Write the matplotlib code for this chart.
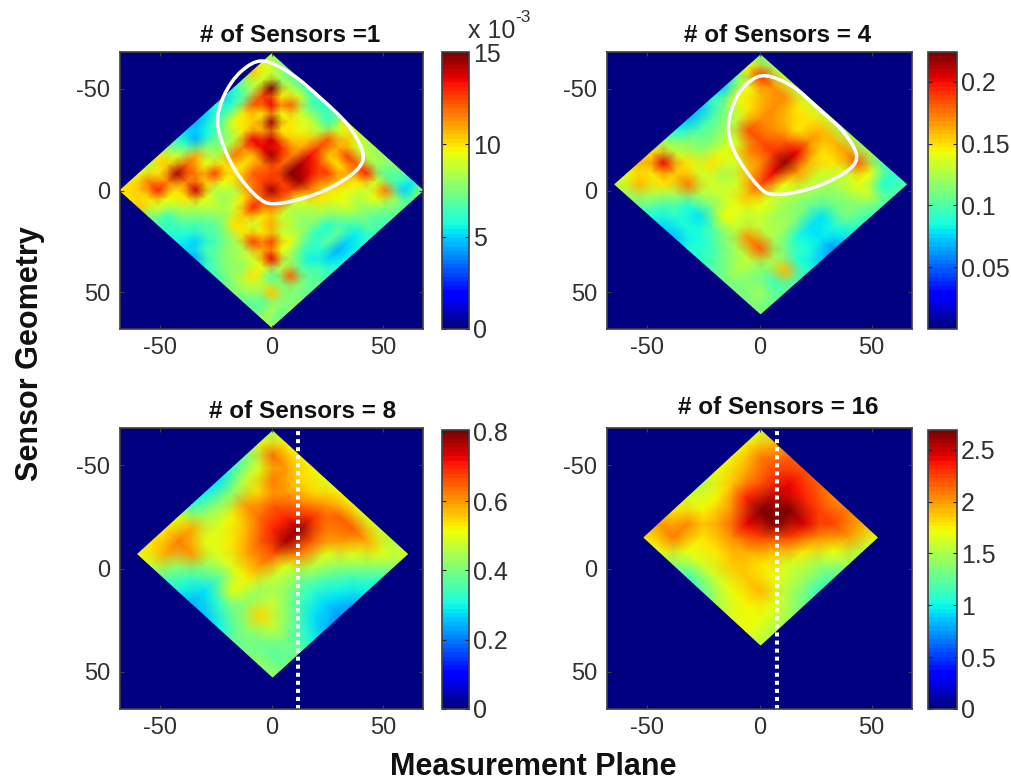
"""Source-strength maps for four sensor counts, drawn on diamond shaped grids."""
import numpy as np
import matplotlib
matplotlib.use("Agg")
import matplotlib.pyplot as plt
from matplotlib.patches import PathPatch
from matplotlib.path import Path

plt.rcParams["font.family"] = ["Liberation Sans", "DejaVu Sans"]
plt.rcParams["axes.unicode_minus"] = False

# rows run from the top corner towards the left corner,
# columns from the top corner towards the right corner
sensors_1 = [
    [8, 7.5, 7, 6.5, 6, 6, 6, 7, 10, 9, 8.5, 8, 8, 7.5, 7, 5.5, 8],
    [9.5, 9, 8, 8.5, 9, 7, 7, 6.5, 9, 10.5, 9, 8.5, 8, 7, 6.5, 5, 7],
    [10.5, 9, 15, 10, 12, 9, 9, 8.5, 12, 11, 12.5, 12, 13, 9, 11.5, 8, 7],
    [7.5, 8.5, 12.5, 13.5, 9.5, 10, 9.5, 10.5, 12.5, 10.5, 10, 11, 10, 9, 9.5, 7.5, 7],
    [6, 7, 12, 10, 14.5, 10, 10.5, 11, 13.5, 12.5, 12.5, 10.5, 9.5, 8.5, 8, 7, 6.5],
    [5, 6.5, 10, 10.5, 11, 14, 13, 11.5, 14.5, 13.5, 11.5, 10, 9.5, 9, 7.5, 7, 6.5],
    [6, 6.5, 9.5, 10, 13.5, 13.5, 14.5, 12, 15, 14.5, 11.5, 10, 8.5, 7.5, 6.5, 5.5, 6],
    [5, 6.5, 7.5, 8.5, 11.5, 10.5, 11.5, 12.5, 12.5, 12.5, 9.5, 8.5, 8, 6, 7, 5, 5.5],
    [4.5, 5.5, 7, 8, 11.5, 10, 12, 12.5, 14.5, 12, 8.5, 8, 7.5, 6, 7, 4.5, 5.5],
    [5, 4.5, 7.5, 8.5, 10, 10, 11, 11.5, 12, 11.5, 9, 8.5, 8, 6.5, 6, 5, 6],
    [6, 7, 11, 9.5, 12.5, 9.5, 8.5, 10, 13, 10, 11, 9, 9.5, 7, 5.5, 6.5, 6.5],
    [7.5, 9, 12, 11.5, 10.5, 8.5, 8, 9, 10.5, 9, 10, 12.5, 9.5, 8, 7, 7, 7],
    [10, 10.5, 14.5, 11.5, 14, 9.5, 8.5, 8, 10, 10, 12.5, 11, 13.5, 8.5, 12, 7.5, 7],
    [8.5, 10, 11.5, 10, 10, 8.5, 7.5, 7, 7.5, 8, 8.5, 9, 9.5, 7, 7.5, 7.5, 7.5],
    [9.5, 11.5, 13, 9.5, 8.5, 7.5, 6.5, 6.5, 6.5, 7.5, 8, 8, 10, 8.5, 10.5, 7.5, 7.5],
    [10, 10.5, 10, 9, 6.5, 6.5, 6, 5, 6.5, 7, 7.5, 8, 8.5, 8, 7, 8, 7],
    [10, 10, 10.5, 7.5, 6.5, 6, 5.5, 5, 4.5, 6, 6.5, 7, 7.5, 7, 7, 8, 8],
]
sensors_4 = [
    [.11, .12, .13, .13, .13, .13, .13, .12, .12, .12, .10, .09, .10],
    [.14, .19, .17, .17, .15, .15, .16, .16, .165, .18, .14, .09, .10],
    [.11, .14, .16, .17, .16, .15, .17, .15, .15, .13, .14, .13, .10],
    [.075, .14, .15, .17, .17, .18, .20, .16, .135, .125, .12, .115, .095],
    [.09, .11, .13, .185, .185, .19, .22, .165, .13, .115, .105, .11, .09],
    [.07, .10, .12, .135, .17, .17, .20, .14, .125, .105, .08, .085, .08],
    [.07, .10, .115, .14, .135, .16, .185, .135, .12, .115, .08, .08, .06],
    [.085, .115, .12, .15, .125, .135, .16, .14, .125, .12, .085, .085, .07],
    [.12, .13, .15, .135, .135, .135, .14, .13, .13, .125, .11, .09, .085],
    [.15, .20, .155, .175, .125, .115, .14, .13, .17, .18, .125, .16, .095],
    [.16, .15, .15, .12, .09, .08, .10, .115, .125, .13, .115, .095, .10],
    [.14, .16, .125, .095, .09, .085, .085, .095, .11, .125, .115, .12, .105],
    [.13, .12, .105, .085, .075, .07, .085, .09, .10, .11, .11, .115, .11],
]
sensors_8 = [
    [.45, .52, .52, .52, .50, .52, .52, .50, .48, .46, .50],
    [.50, .63, .60, .55, .55, .60, .65, .65, .58, .50, .42],
    [.40, .50, .62, .60, .63, .68, .62, .60, .50, .42, .33],
    [.33, .47, .55, .65, .70, .78, .65, .50, .42, .33, .30],
    [.28, .42, .60, .63, .70, .77, .62, .46, .36, .30, .24],
    [.30, .42, .52, .57, .65, .66, .50, .40, .32, .27, .22],
    [.33, .45, .50, .54, .58, .60, .47, .42, .35, .28, .25],
    [.50, .58, .50, .50, .50, .52, .43, .47, .42, .35, .30],
    [.54, .62, .60, .42, .37, .50, .42, .55, .47, .40, .38],
    [.54, .58, .42, .33, .28, .33, .38, .42, .40, .37, .38],
    [.52, .47, .36, .30, .24, .26, .30, .37, .40, .42, .42],
]
sensors_16 = [
    [1.6, 1.9, 2.15, 2.2, 2.15, 2.05, 2.1, 1.95, 1.65],
    [1.75, 2.1, 2.25, 2.4, 2.35, 2.25, 2.25, 2.0, 1.55],
    [1.75, 1.95, 2.2, 2.55, 2.65, 2.45, 2.05, 1.7, 1.45],
    [1.7, 1.85, 2.35, 2.65, 2.65, 2.25, 1.8, 1.45, 1.2],
    [1.55, 1.75, 2.05, 2.4, 2.25, 1.9, 1.6, 1.45, 1.1],
    [1.6, 1.75, 1.95, 2.05, 1.95, 1.8, 1.7, 1.5, 1.3],
    [1.8, 2.05, 1.8, 1.8, 1.85, 1.85, 1.9, 1.65, 1.45],
    [2.0, 2.1, 1.7, 1.6, 1.6, 1.7, 1.75, 1.7, 1.5],
    [1.8, 1.7, 1.4, 1.1, 1.25, 1.5, 1.65, 1.7, 1.55],
]

# white outlines of the strong region
curve_1_x = [-4, 8.7, 22.1, 34.1, 40.8, 39.3, 29.6, 16.1, 1.2, -6.3, -15.2, -21.2, -24.2, -21.2, -13.8]
curve_1_y = [-63.6, -57.4, -45.3, -32.4, -19.4, -11.3, -3.2, 3.2, 6.5, 3.2, -8.1, -21, -34, -46.9, -58.3]
curve_4_x = [3, 14.9, 26.8, 37.2, 43.2, 40.2, 28.3, 16.4, 7.4, 1.5, -6, -11.9, -13.8, -10.4, -4.5]
curve_4_y = [-56.3, -51, -39.6, -29.1, -17.8, -10.5, -3.2, 0.8, 1.9, 0, -9.7, -21, -32.4, -45.3, -53.4]

titles = ["# of Sensors =1", "# of Sensors = 4", "# of Sensors = 8", "# of Sensors = 16"]
ticks = [-50, 0, 50]
cbar_ticks = [[0, 5, 10, 15], [0.05, 0.1, 0.15, 0.2], [0, 0.2, 0.4, 0.6, 0.8],
              [0, 0.5, 1, 1.5, 2, 2.5]]
cbar_labels = [["0", "5", "10", "15"], ["0.05", "0.1", "0.15", "0.2"],
               ["0", "0.2", "0.4", "0.6", "0.8"], ["0", "0.5", "1", "1.5", "2", "2.5"]]

W, H = 1011, 781
GREY = "#404040"
cmap = plt.get_cmap("jet", 64)

fig = plt.figure(figsize=(W / 100, H / 100), dpi=100)


def px_axes(left, top, right, bottom):
    return fig.add_axes([left / W, 1 - bottom / H, (right - left) / W, (bottom - top) / H])


def px_text(x, y, s, **kw):
    fig.text(x / W, 1 - y / H, s, ha=kw.pop("ha", "center"), va="center", **kw)


def closed_curve(xs, ys):
    """Smooth closed path through the given points."""
    pts = np.column_stack([xs, ys])
    n = len(pts)
    verts = [pts[0]]
    codes = [Path.MOVETO]
    for k in range(n):
        p0, p1, p2, p3 = pts[k - 1], pts[k], pts[(k + 1) % n], pts[(k + 2) % n]
        verts += [p1 + (p2 - p0) / 6, p2 - (p3 - p1) / 6, p2]
        codes += [Path.CURVE4] * 3
    return Path(verts, codes)


def draw_panel(values, box, cbar_box, centre, half, vmax, idx):
    ax = px_axes(*box)
    z = np.array(values, dtype=float)
    n = z.shape[0]
    col, row = np.meshgrid(np.arange(n), np.arange(n))
    x = centre[0] + half[0] * (col - row) / (n - 1)
    y = centre[1] - half[1] + half[1] * (col + row) / (n - 1)
    ax.set_facecolor(cmap(0))
    mesh = ax.pcolormesh(x, y, z, cmap=cmap, vmin=0, vmax=vmax, shading="gouraud")
    ax.set_xlim(-68, 68)
    ax.set_ylim(68, -68)
    ax.set_xticks(ticks)
    ax.set_yticks(ticks)
    ax.tick_params(direction="in", length=3, width=0.8, top=True, right=True,
                   labelsize=17, labelcolor="#303030", color=GREY)
    ax.tick_params(axis="x", pad=6)
    ax.tick_params(axis="y", pad=7)
    for s in ax.spines.values():
        s.set_color(GREY)
        s.set_linewidth(1.2)

    cax = px_axes(*cbar_box)
    cb = fig.colorbar(mesh, cax=cax)
    cb.set_ticks(cbar_ticks[idx])
    cb.set_ticklabels(cbar_labels[idx])
    cax.minorticks_off()
    cax.tick_params(direction="in", length=3, width=0.8, left=True, right=True,
                    labelsize=18, labelcolor="#303030", color="#202020", pad=3)
    cb.outline.set_edgecolor(GREY)
    cb.outline.set_linewidth(1.2)
    return ax


# first map is read in units of 1e-3, as its colour bar shows
ax1 = draw_panel(sensors_1, (120, 52, 423, 329), (442, 52, 469, 329), (0, 0), (68, 67), 15, 0)
ax2 = draw_panel(sensors_4, (607, 52, 912, 329), (928, 52, 957, 329), (0.5, -3), (65, 63.5), 0.224, 1)
ax3 = draw_panel(sensors_8, (120, 428, 423, 709), (442, 430, 469, 709), (0.5, -7), (60.5, 59.5), 0.805, 2)
ax4 = draw_panel(sensors_16, (607, 428, 912, 709), (928, 430, 957, 709), (0.5, -15), (52, 52), 2.69, 3)

ax1.add_patch(PathPatch(closed_curve(curve_1_x, curve_1_y), fc="none", ec="white", lw=2.5))
ax2.add_patch(PathPatch(closed_curve(curve_4_x, curve_4_y), fc="none", ec="white", lw=2.5))
ax3.axvline(12, color="white", lw=2.9, linestyle=(0, (1, 1)))
ax4.axvline(7.7, color="white", lw=2.9, linestyle=(0, (1, 1)))

title_kw = dict(fontsize=17.5, fontweight="bold", color="#111111")
px_text(290, 35, titles[0], **title_kw)
px_text(778, 35, titles[1], **title_kw)
px_text(303, 411, titles[2], **title_kw)
px_text(778, 407, titles[3], **title_kw)

px_text(468, 31, "x 10", ha="left", fontsize=18, color="#303030")
px_text(515, 17, "-3", ha="left", fontsize=12.5, color="#303030")

px_text(30, 354, "Sensor Geometry", rotation=90, fontsize=22, fontweight="bold", color="#111111")
px_text(533, 767, "Measurement Plane", fontsize=22, fontweight="bold", color="#111111")

fig.savefig("out.png", dpi=100)
